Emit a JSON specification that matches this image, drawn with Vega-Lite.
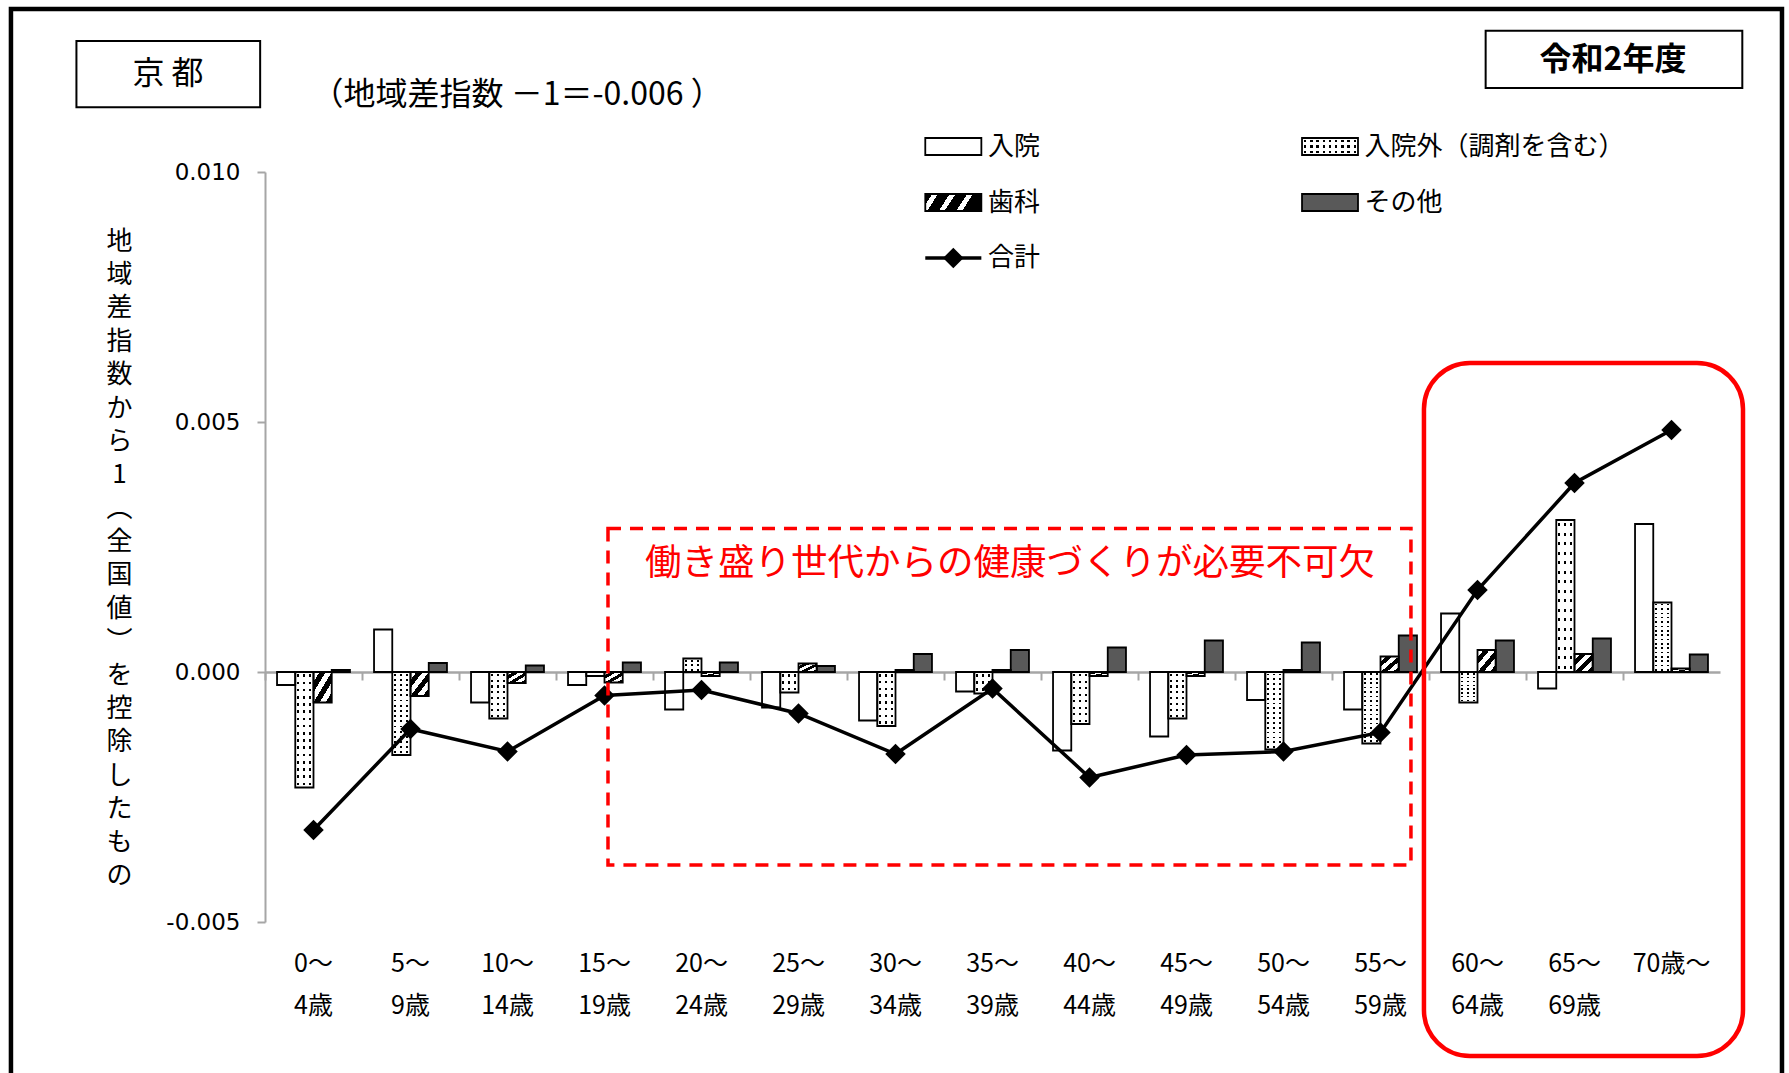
{
  "$schema": "https://vega.github.io/schema/vega-lite/v6.json",
  "width": 1455,
  "height": 750,
  "autosize": {"type": "none"},
  "padding": {"left": 265, "top": 172, "right": 69, "bottom": 151},
  "background": "white",
  "config": {"font": "Noto Sans CJK JP", "view": {"stroke": null}},
  "datasets": {
    "bars": [
      {"age": "0～|4歳", "type": "入院", "value": -0.00026},
      {"age": "0～|4歳", "type": "入院外", "value": -0.00231},
      {"age": "0～|4歳", "type": "歯科", "value": -0.00061},
      {"age": "0～|4歳", "type": "その他", "value": 0.00004},
      {"age": "5～|9歳", "type": "入院", "value": 0.00085},
      {"age": "5～|9歳", "type": "入院外", "value": -0.00166},
      {"age": "5～|9歳", "type": "歯科", "value": -0.00048},
      {"age": "5～|9歳", "type": "その他", "value": 0.00018},
      {"age": "10～|14歳", "type": "入院", "value": -0.00061},
      {"age": "10～|14歳", "type": "入院外", "value": -0.00093},
      {"age": "10～|14歳", "type": "歯科", "value": -0.00022},
      {"age": "10～|14歳", "type": "その他", "value": 0.00013},
      {"age": "15～|19歳", "type": "入院", "value": -0.00026},
      {"age": "15～|19歳", "type": "入院外", "value": -0.00008},
      {"age": "15～|19歳", "type": "歯科", "value": -0.00021},
      {"age": "15～|19歳", "type": "その他", "value": 0.00019},
      {"age": "20～|24歳", "type": "入院", "value": -0.00075},
      {"age": "20～|24歳", "type": "入院外", "value": 0.00027},
      {"age": "20～|24歳", "type": "歯科", "value": -0.00008},
      {"age": "20～|24歳", "type": "その他", "value": 0.00019},
      {"age": "25～|29歳", "type": "入院", "value": -0.00071},
      {"age": "25～|29歳", "type": "入院外", "value": -0.00041},
      {"age": "25～|29歳", "type": "歯科", "value": 0.00017},
      {"age": "25～|29歳", "type": "その他", "value": 0.00012},
      {"age": "30～|34歳", "type": "入院", "value": -0.00097},
      {"age": "30～|34歳", "type": "入院外", "value": -0.00108},
      {"age": "30～|34歳", "type": "歯科", "value": 0.00004},
      {"age": "30～|34歳", "type": "その他", "value": 0.00036},
      {"age": "35～|39歳", "type": "入院", "value": -0.00039},
      {"age": "35～|39歳", "type": "入院外", "value": -0.00043},
      {"age": "35～|39歳", "type": "歯科", "value": 0.00004},
      {"age": "35～|39歳", "type": "その他", "value": 0.00044},
      {"age": "40～|44歳", "type": "入院", "value": -0.00157},
      {"age": "40～|44歳", "type": "入院外", "value": -0.00104},
      {"age": "40～|44歳", "type": "歯科", "value": -0.00008},
      {"age": "40～|44歳", "type": "その他", "value": 0.00049},
      {"age": "45～|49歳", "type": "入院", "value": -0.00129},
      {"age": "45～|49歳", "type": "入院外", "value": -0.00093},
      {"age": "45～|49歳", "type": "歯科", "value": -0.00008},
      {"age": "45～|49歳", "type": "その他", "value": 0.00063},
      {"age": "50～|54歳", "type": "入院", "value": -0.00056},
      {"age": "50～|54歳", "type": "入院外", "value": -0.00155},
      {"age": "50～|54歳", "type": "歯科", "value": 0.00004},
      {"age": "50～|54歳", "type": "その他", "value": 0.00059},
      {"age": "55～|59歳", "type": "入院", "value": -0.00075},
      {"age": "55～|59歳", "type": "入院外", "value": -0.00143},
      {"age": "55～|59歳", "type": "歯科", "value": 0.00031},
      {"age": "55～|59歳", "type": "その他", "value": 0.00073},
      {"age": "60～|64歳", "type": "入院", "value": 0.00117},
      {"age": "60～|64歳", "type": "入院外", "value": -0.00061},
      {"age": "60～|64歳", "type": "歯科", "value": 0.00044},
      {"age": "60～|64歳", "type": "その他", "value": 0.00063},
      {"age": "65～|69歳", "type": "入院", "value": -0.00033},
      {"age": "65～|69歳", "type": "入院外", "value": 0.00304},
      {"age": "65～|69歳", "type": "歯科", "value": 0.00036},
      {"age": "65～|69歳", "type": "その他", "value": 0.00067},
      {"age": "70歳～", "type": "入院", "value": 0.00296},
      {"age": "70歳～", "type": "入院外", "value": 0.00139},
      {"age": "70歳～", "type": "歯科", "value": 0.00007},
      {"age": "70歳～", "type": "その他", "value": 0.00035}
    ],
    "totals": [
      {"age": "0～|4歳", "value": -0.00316},
      {"age": "5～|9歳", "value": -0.00114},
      {"age": "10～|14歳", "value": -0.00159},
      {"age": "15～|19歳", "value": -0.00047},
      {"age": "20～|24歳", "value": -0.00036},
      {"age": "25～|29歳", "value": -0.00083},
      {"age": "30～|34歳", "value": -0.00164},
      {"age": "35～|39歳", "value": -0.00033},
      {"age": "40～|44歳", "value": -0.00211},
      {"age": "45～|49歳", "value": -0.00166},
      {"age": "50～|54歳", "value": -0.00159},
      {"age": "55～|59歳", "value": -0.00121},
      {"age": "60～|64歳", "value": 0.00164},
      {"age": "65～|69歳", "value": 0.00378},
      {"age": "70歳～", "value": 0.00484}
    ],
    "legend": [
      {"item": "入院", "x": 6.807, "x2": 7.385, "y": 0.01068, "y2": 0.01034, "tx": 7.454, "ty": 0.01051},
      {"item": "歯科", "x": 6.807, "x2": 7.385, "y": 0.00956, "y2": 0.00922, "tx": 7.454, "ty": 0.00939},
      {"item": "合計", "x": 6.807, "x2": 7.385, "y": 0.00828, "y2": 0.00828, "tx": 7.454, "ty": 0.00828},
      {"item": "入院外（調剤を含む）", "x": 10.691, "x2": 11.268, "y": 0.01068, "y2": 0.01034, "tx": 11.336, "ty": 0.01051},
      {"item": "その他", "x": 10.691, "x2": 11.268, "y": 0.00956, "y2": 0.00922, "tx": 11.336, "ty": 0.00939}
    ]
  },
  "resolve": {"scale": {"x": "independent", "y": "independent"}},
  "layer": [
    {
      "resolve": {"scale": {"x": "shared", "y": "shared"}, "axis": {"x": "independent", "y": "independent"}},
      "layer": [
        {
          "data": {"name": "bars"},
          "transform": [{"filter": "datum.type === '入院'"}],
          "mark": {"type": "bar", "fill": "white"},
          "encoding": {
            "x": {"field": "age", "type": "nominal", "sort": null,
              "scale": {"type": "band", "domain": ["0～|4歳","5～|9歳","10～|14歳","15～|19歳","20～|24歳","25～|29歳","30～|34歳","35～|39歳","40～|44歳","45～|49歳","50～|54歳","55～|59歳","60～|64歳","65～|69歳","70歳～"], "paddingInner": 0, "paddingOuter": 0},
              "axis": {"orient": "bottom", "domain": false, "ticks": false, "tickSize": 0, "labelPadding": 29, "labelFontSize": 25, "labelLineHeight": 42, "labelExpr": "split(datum.label, '|')", "labelBaseline": "top", "labelAngle": 0, "labelOverlap": false, "labelColor": "#000000", "labelFont": "Noto Sans CJK JP", "title": null, "grid": false}},
            "xOffset": {"field": "type", "type": "nominal", "sort": null, "scale": {"domain": ["入院","入院外","歯科","その他"], "paddingInner": 0, "paddingOuter": 0.66}},
            "y": {"field": "value", "type": "quantitative", "stack": null,
              "scale": {"domain": [-0.005, 0.01], "nice": false, "zero": false},
              "axis": {"orient": "left", "values": [-0.005, 0, 0.005, 0.01], "labelExpr": "replace(format(datum.value, '.3f'), '−', '-')", "labelFont": "DejaVu Sans", "labelFontSize": 23, "labelColor": "#000000", "labelPadding": 17, "tickSize": 8, "tickWidth": 2, "tickColor": "#a6a6a6", "domainColor": "#a6a6a6", "domainWidth": 2, "grid": false,
                "title": ["地","域","差","指","数","か","ら","1","︵","全","国","値","︶","を","控","除","し","た","も","の"],
                "titleAngle": 0, "titleX": -146, "titleY": 56, "titleAlign": "center", "titleBaseline": "top", "titleFontSize": 26, "titleFontWeight": "normal", "titleLineHeight": 33.4, "titleFont": "Noto Sans CJK JP", "titleColor": "#000000"}},
            "y2": {"datum": 0}
          }
        },
        {
          "data": {"name": "bars"},
          "transform": [{"filter": "datum.type === 'その他'"}],
          "mark": {"type": "bar", "fill": "#595959"},
          "encoding": {
            "x": {"field": "age", "type": "nominal", "sort": null, "scale": {"type": "band"}, "axis": null},
            "xOffset": {"field": "type", "type": "nominal", "sort": null},
            "y": {"field": "value", "type": "quantitative", "stack": null, "axis": null},
            "y2": {"datum": 0}
          }
        },
        {
          "data": {"name": "bars"},
          "transform": [{"filter": "datum.type === '歯科'"}],
          "mark": {"type": "bar", "fill": {"gradient": "linear", "x1": 0, "y1": 0, "x2": 1, "y2": 1, "stops": [
            {"offset": 0, "color": "white"}, {"offset": 0.1667, "color": "white"}, {"offset": 0.1667, "color": "black"}, {"offset": 0.3333, "color": "black"},
            {"offset": 0.3333, "color": "white"}, {"offset": 0.5, "color": "white"}, {"offset": 0.5, "color": "black"}, {"offset": 0.6667, "color": "black"},
            {"offset": 0.6667, "color": "white"}, {"offset": 0.8333, "color": "white"}, {"offset": 0.8333, "color": "black"}, {"offset": 1, "color": "black"}]}},
          "encoding": {
            "x": {"field": "age", "type": "nominal", "sort": null, "scale": {"type": "band"}, "axis": null},
            "xOffset": {"field": "type", "type": "nominal", "sort": null},
            "y": {"field": "value", "type": "quantitative", "stack": null, "axis": null},
            "y2": {"datum": 0}
          }
        },
        {
          "data": {"name": "bars"},
          "transform": [{"filter": "datum.type === '入院外' && abs(datum.value) >= 0.0012"}],
          "mark": {"type": "bar", "fill": {"gradient": "linear", "x1": 0, "y1": 0, "x2": 0, "y2": 1, "stops": [
            {"offset": 0, "color": "white"},
            {"offset": 0.02, "color": "white"}, {"offset": 0.02, "color": "black"}, {"offset": 0.0425, "color": "black"}, {"offset": 0.0425, "color": "white"},
            {"offset": 0.0825, "color": "white"}, {"offset": 0.0825, "color": "black"}, {"offset": 0.105, "color": "black"}, {"offset": 0.105, "color": "white"},
            {"offset": 0.145, "color": "white"}, {"offset": 0.145, "color": "black"}, {"offset": 0.1675, "color": "black"}, {"offset": 0.1675, "color": "white"},
            {"offset": 0.2075, "color": "white"}, {"offset": 0.2075, "color": "black"}, {"offset": 0.23, "color": "black"}, {"offset": 0.23, "color": "white"},
            {"offset": 0.27, "color": "white"}, {"offset": 0.27, "color": "black"}, {"offset": 0.2925, "color": "black"}, {"offset": 0.2925, "color": "white"},
            {"offset": 0.3325, "color": "white"}, {"offset": 0.3325, "color": "black"}, {"offset": 0.355, "color": "black"}, {"offset": 0.355, "color": "white"},
            {"offset": 0.395, "color": "white"}, {"offset": 0.395, "color": "black"}, {"offset": 0.4175, "color": "black"}, {"offset": 0.4175, "color": "white"},
            {"offset": 0.4575, "color": "white"}, {"offset": 0.4575, "color": "black"}, {"offset": 0.48, "color": "black"}, {"offset": 0.48, "color": "white"},
            {"offset": 0.52, "color": "white"}, {"offset": 0.52, "color": "black"}, {"offset": 0.5425, "color": "black"}, {"offset": 0.5425, "color": "white"},
            {"offset": 0.5825, "color": "white"}, {"offset": 0.5825, "color": "black"}, {"offset": 0.605, "color": "black"}, {"offset": 0.605, "color": "white"},
            {"offset": 0.645, "color": "white"}, {"offset": 0.645, "color": "black"}, {"offset": 0.6675, "color": "black"}, {"offset": 0.6675, "color": "white"},
            {"offset": 0.7075, "color": "white"}, {"offset": 0.7075, "color": "black"}, {"offset": 0.73, "color": "black"}, {"offset": 0.73, "color": "white"},
            {"offset": 0.77, "color": "white"}, {"offset": 0.77, "color": "black"}, {"offset": 0.7925, "color": "black"}, {"offset": 0.7925, "color": "white"},
            {"offset": 0.8325, "color": "white"}, {"offset": 0.8325, "color": "black"}, {"offset": 0.855, "color": "black"}, {"offset": 0.855, "color": "white"},
            {"offset": 0.895, "color": "white"}, {"offset": 0.895, "color": "black"}, {"offset": 0.9175, "color": "black"}, {"offset": 0.9175, "color": "white"},
            {"offset": 0.9575, "color": "white"}, {"offset": 0.9575, "color": "black"}, {"offset": 0.98, "color": "black"}, {"offset": 0.98, "color": "white"},
            {"offset": 1, "color": "white"}]}},
          "encoding": {
            "x": {"field": "age", "type": "nominal", "sort": null, "scale": {"type": "band"}, "axis": null},
            "xOffset": {"field": "type", "type": "nominal", "sort": null},
            "y": {"field": "value", "type": "quantitative", "stack": null, "axis": null},
            "y2": {"datum": 0}
          }
        },
        {
          "data": {"name": "bars"},
          "transform": [{"filter": "datum.type === '入院外' && abs(datum.value) >= 0.0005 && abs(datum.value) < 0.0012"}],
          "mark": {"type": "bar", "fill": {"gradient": "linear", "x1": 0, "y1": 0, "x2": 0, "y2": 1, "stops": [
            {"offset": 0, "color": "white"},
            {"offset": 0.04, "color": "white"}, {"offset": 0.04, "color": "black"}, {"offset": 0.085, "color": "black"}, {"offset": 0.085, "color": "white"},
            {"offset": 0.165, "color": "white"}, {"offset": 0.165, "color": "black"}, {"offset": 0.21, "color": "black"}, {"offset": 0.21, "color": "white"},
            {"offset": 0.29, "color": "white"}, {"offset": 0.29, "color": "black"}, {"offset": 0.335, "color": "black"}, {"offset": 0.335, "color": "white"},
            {"offset": 0.415, "color": "white"}, {"offset": 0.415, "color": "black"}, {"offset": 0.46, "color": "black"}, {"offset": 0.46, "color": "white"},
            {"offset": 0.54, "color": "white"}, {"offset": 0.54, "color": "black"}, {"offset": 0.585, "color": "black"}, {"offset": 0.585, "color": "white"},
            {"offset": 0.665, "color": "white"}, {"offset": 0.665, "color": "black"}, {"offset": 0.71, "color": "black"}, {"offset": 0.71, "color": "white"},
            {"offset": 0.79, "color": "white"}, {"offset": 0.79, "color": "black"}, {"offset": 0.835, "color": "black"}, {"offset": 0.835, "color": "white"},
            {"offset": 0.915, "color": "white"}, {"offset": 0.915, "color": "black"}, {"offset": 0.96, "color": "black"}, {"offset": 0.96, "color": "white"},
            {"offset": 1, "color": "white"}]}},
          "encoding": {
            "x": {"field": "age", "type": "nominal", "sort": null, "scale": {"type": "band"}, "axis": null},
            "xOffset": {"field": "type", "type": "nominal", "sort": null},
            "y": {"field": "value", "type": "quantitative", "stack": null, "axis": null},
            "y2": {"datum": 0}
          }
        },
        {
          "data": {"name": "bars"},
          "transform": [{"filter": "datum.type === '入院外' && abs(datum.value) < 0.0005"}],
          "mark": {"type": "bar", "fill": {"gradient": "linear", "x1": 0, "y1": 0, "x2": 0, "y2": 1, "stops": [
            {"offset": 0, "color": "white"},
            {"offset": 0.1, "color": "white"}, {"offset": 0.1, "color": "black"}, {"offset": 0.2333, "color": "black"}, {"offset": 0.2333, "color": "white"},
            {"offset": 0.4333, "color": "white"}, {"offset": 0.4333, "color": "black"}, {"offset": 0.5667, "color": "black"}, {"offset": 0.5667, "color": "white"},
            {"offset": 0.7667, "color": "white"}, {"offset": 0.7667, "color": "black"}, {"offset": 0.9, "color": "black"}, {"offset": 0.9, "color": "white"},
            {"offset": 1, "color": "white"}]}},
          "encoding": {
            "x": {"field": "age", "type": "nominal", "sort": null, "scale": {"type": "band"}, "axis": null},
            "xOffset": {"field": "type", "type": "nominal", "sort": null},
            "y": {"field": "value", "type": "quantitative", "stack": null, "axis": null},
            "y2": {"datum": 0}
          }
        },
        {
          "data": {"name": "bars"},
          "transform": [{"filter": "datum.type === '入院外'"}],
          "mark": {"type": "bar", "fill": {"gradient": "linear", "x1": 0, "y1": 0, "x2": 1, "y2": 0, "stops": [
            {"offset": 0, "color": "white"}, {"offset": 0.11, "color": "white"}, {"offset": 0.11, "color": "rgba(255,255,255,0)"}, {"offset": 0.22, "color": "rgba(255,255,255,0)"},
            {"offset": 0.22, "color": "white"}, {"offset": 0.445, "color": "white"}, {"offset": 0.445, "color": "rgba(255,255,255,0)"}, {"offset": 0.555, "color": "rgba(255,255,255,0)"},
            {"offset": 0.555, "color": "white"}, {"offset": 0.78, "color": "white"}, {"offset": 0.78, "color": "rgba(255,255,255,0)"}, {"offset": 0.89, "color": "rgba(255,255,255,0)"},
            {"offset": 0.89, "color": "white"}, {"offset": 1, "color": "white"}]}},
          "encoding": {
            "x": {"field": "age", "type": "nominal", "sort": null, "scale": {"type": "band"}, "axis": null},
            "xOffset": {"field": "type", "type": "nominal", "sort": null},
            "y": {"field": "value", "type": "quantitative", "stack": null, "axis": null},
            "y2": {"datum": 0}
          }
        },
        {
          "data": {"name": "bars"},
          "mark": {"type": "bar", "fill": "transparent", "stroke": "black", "strokeWidth": 1.8},
          "encoding": {
            "x": {"field": "age", "type": "nominal", "sort": null, "scale": {"type": "band"}, "axis": null},
            "xOffset": {"field": "type", "type": "nominal", "sort": null},
            "y": {"field": "value", "type": "quantitative", "stack": null, "axis": null},
            "y2": {"datum": 0}
          }
        },
        {
          "data": {"name": "totals"},
          "mark": {"type": "line", "color": "black", "strokeWidth": 3.5},
          "encoding": {
            "x": {"field": "age", "type": "nominal", "sort": null, "scale": {"type": "band"},
              "axis": {"orient": "bottom", "offset": -250, "labels": false, "title": null, "domainColor": "#a6a6a6", "domainWidth": 2.5, "tickColor": "#a6a6a6", "tickWidth": 2, "tickSize": 8, "bandPosition": 0, "grid": false}},
            "y": {"field": "value", "type": "quantitative", "axis": null}
          }
        },
        {
          "data": {"name": "totals"},
          "mark": {"type": "point", "shape": "diamond", "filled": true, "color": "black", "size": 420, "opacity": 1},
          "encoding": {
            "x": {"field": "age", "type": "nominal", "sort": null, "scale": {"type": "band"}, "axis": null},
            "y": {"field": "value", "type": "quantitative", "axis": null}
          }
        }
      ]
    },
    {
      "layer": [
        {
          "data": {"values": [{"part": "border", "x": -2.619, "x2": 15.639, "y": 0.01326, "y2": -0.0084}]},
          "mark": {"type": "rect", "fill": "transparent", "stroke": "black", "strokeWidth": 4.5},
          "encoding": {
            "x": {"field": "x", "type": "quantitative", "scale": {"domain": [0, 15], "nice": false, "zero": false}, "axis": null},
            "x2": {"field": "x2"},
            "y": {"field": "y", "type": "quantitative", "scale": {"domain": [-0.005, 0.01], "nice": false, "zero": false}, "axis": null},
            "y2": {"field": "y2"}
          }
        },
        {
          "data": {"values": [
            {"box": "京都", "x": -1.944, "x2": -0.05, "y": 0.012618, "y2": 0.011294},
            {"box": "令和2年度", "x": 12.584, "x2": 15.23, "y": 0.012824, "y2": 0.011682}
          ]},
          "mark": {"type": "rect", "fill": "white", "stroke": "black", "strokeWidth": 2},
          "encoding": {
            "x": {"field": "x", "type": "quantitative", "axis": null},
            "x2": {"field": "x2"},
            "y": {"field": "y", "type": "quantitative", "axis": null},
            "y2": {"field": "y2"}
          }
        },
        {
          "data": {"values": [{"label": "京 都", "x": -1.0, "y": 0.01196}]},
          "mark": {"type": "text", "fontSize": 32, "align": "center", "baseline": "middle", "color": "black", "font": "Noto Sans CJK JP"},
          "encoding": {
            "x": {"field": "x", "type": "quantitative", "axis": null},
            "y": {"field": "y", "type": "quantitative", "axis": null},
            "text": {"field": "label"}
          }
        },
        {
          "data": {"values": [{"label": "（地域差指数 －1＝-0.006 ）", "x": 0.48, "y": 0.01154}]},
          "mark": {"type": "text", "fontSize": 32, "align": "left", "baseline": "middle", "color": "black", "font": "Noto Sans CJK JP"},
          "encoding": {
            "x": {"field": "x", "type": "quantitative", "axis": null},
            "y": {"field": "y", "type": "quantitative", "axis": null},
            "text": {"field": "label"}
          }
        },
        {
          "data": {"values": [{"label": "令和2年度", "x": 13.897, "y": 0.01224}]},
          "mark": {"type": "text", "fontSize": 32, "fontWeight": "bold", "align": "center", "baseline": "middle", "color": "black", "font": "Noto Sans CJK JP"},
          "encoding": {
            "x": {"field": "x", "type": "quantitative", "axis": null},
            "y": {"field": "y", "type": "quantitative", "axis": null},
            "text": {"field": "label"}
          }
        },
        {
          "data": {"name": "legend"},
          "transform": [{"filter": "datum.item === '入院'"}],
          "mark": {"type": "rect", "fill": "white"},
          "encoding": {
            "x": {"field": "x", "type": "quantitative", "axis": null},
            "x2": {"field": "x2"},
            "y": {"field": "y", "type": "quantitative", "axis": null},
            "y2": {"field": "y2"}
          }
        },
        {
          "data": {"name": "legend"},
          "transform": [{"filter": "datum.item === 'その他'"}],
          "mark": {"type": "rect", "fill": "#595959"},
          "encoding": {
            "x": {"field": "x", "type": "quantitative", "axis": null},
            "x2": {"field": "x2"},
            "y": {"field": "y", "type": "quantitative", "axis": null},
            "y2": {"field": "y2"}
          }
        },
        {
          "data": {"name": "legend"},
          "transform": [{"filter": "datum.item === '歯科'"}],
          "mark": {"type": "rect", "fill": {"gradient": "linear", "x1": 0, "y1": 0, "x2": 1, "y2": 0.2, "stops": [
            {"offset": 0, "color": "black"}, {"offset": 0.12, "color": "black"}, {"offset": 0.12, "color": "white"}, {"offset": 0.22, "color": "white"},
            {"offset": 0.22, "color": "black"}, {"offset": 0.42, "color": "black"}, {"offset": 0.42, "color": "white"}, {"offset": 0.52, "color": "white"},
            {"offset": 0.52, "color": "black"}, {"offset": 0.72, "color": "black"}, {"offset": 0.72, "color": "white"}, {"offset": 0.82, "color": "white"},
            {"offset": 0.82, "color": "black"}, {"offset": 1, "color": "black"}]}},
          "encoding": {
            "x": {"field": "x", "type": "quantitative", "axis": null},
            "x2": {"field": "x2"},
            "y": {"field": "y", "type": "quantitative", "axis": null},
            "y2": {"field": "y2"}
          }
        },
        {
          "data": {"name": "legend"},
          "transform": [{"filter": "datum.item === '入院外（調剤を含む）'"}],
          "mark": {"type": "rect", "fill": {"gradient": "linear", "x1": 0, "y1": 0, "x2": 0, "y2": 1, "stops": [
            {"offset": 0, "color": "white"},
            {"offset": 0.1, "color": "white"}, {"offset": 0.1, "color": "black"}, {"offset": 0.2333, "color": "black"}, {"offset": 0.2333, "color": "white"},
            {"offset": 0.4333, "color": "white"}, {"offset": 0.4333, "color": "black"}, {"offset": 0.5667, "color": "black"}, {"offset": 0.5667, "color": "white"},
            {"offset": 0.7667, "color": "white"}, {"offset": 0.7667, "color": "black"}, {"offset": 0.9, "color": "black"}, {"offset": 0.9, "color": "white"},
            {"offset": 1, "color": "white"}]}},
          "encoding": {
            "x": {"field": "x", "type": "quantitative", "axis": null},
            "x2": {"field": "x2"},
            "y": {"field": "y", "type": "quantitative", "axis": null},
            "y2": {"field": "y2"}
          }
        },
        {
          "data": {"name": "legend"},
          "transform": [{"filter": "datum.item === '入院外（調剤を含む）'"}],
          "mark": {"type": "rect", "fill": {"gradient": "linear", "x1": 0, "y1": 0, "x2": 1, "y2": 0, "stops": [
            {"offset": 0, "color": "white"},
            {"offset": 0.0333, "color": "white"}, {"offset": 0.0333, "color": "rgba(255,255,255,0)"}, {"offset": 0.0778, "color": "rgba(255,255,255,0)"}, {"offset": 0.0778, "color": "white"},
            {"offset": 0.1444, "color": "white"}, {"offset": 0.1444, "color": "rgba(255,255,255,0)"}, {"offset": 0.1889, "color": "rgba(255,255,255,0)"}, {"offset": 0.1889, "color": "white"},
            {"offset": 0.2556, "color": "white"}, {"offset": 0.2556, "color": "rgba(255,255,255,0)"}, {"offset": 0.3, "color": "rgba(255,255,255,0)"}, {"offset": 0.3, "color": "white"},
            {"offset": 0.3667, "color": "white"}, {"offset": 0.3667, "color": "rgba(255,255,255,0)"}, {"offset": 0.4111, "color": "rgba(255,255,255,0)"}, {"offset": 0.4111, "color": "white"},
            {"offset": 0.4778, "color": "white"}, {"offset": 0.4778, "color": "rgba(255,255,255,0)"}, {"offset": 0.5222, "color": "rgba(255,255,255,0)"}, {"offset": 0.5222, "color": "white"},
            {"offset": 0.5889, "color": "white"}, {"offset": 0.5889, "color": "rgba(255,255,255,0)"}, {"offset": 0.6333, "color": "rgba(255,255,255,0)"}, {"offset": 0.6333, "color": "white"},
            {"offset": 0.7, "color": "white"}, {"offset": 0.7, "color": "rgba(255,255,255,0)"}, {"offset": 0.7444, "color": "rgba(255,255,255,0)"}, {"offset": 0.7444, "color": "white"},
            {"offset": 0.8111, "color": "white"}, {"offset": 0.8111, "color": "rgba(255,255,255,0)"}, {"offset": 0.8556, "color": "rgba(255,255,255,0)"}, {"offset": 0.8556, "color": "white"},
            {"offset": 0.9222, "color": "white"}, {"offset": 0.9222, "color": "rgba(255,255,255,0)"}, {"offset": 0.9667, "color": "rgba(255,255,255,0)"}, {"offset": 0.9667, "color": "white"},
            {"offset": 1, "color": "white"}]}},
          "encoding": {
            "x": {"field": "x", "type": "quantitative", "axis": null},
            "x2": {"field": "x2"},
            "y": {"field": "y", "type": "quantitative", "axis": null},
            "y2": {"field": "y2"}
          }
        },
        {
          "data": {"name": "legend"},
          "transform": [{"filter": "datum.item !== '合計'"}],
          "mark": {"type": "rect", "fill": "transparent", "stroke": "black", "strokeWidth": 1.8},
          "encoding": {
            "x": {"field": "x", "type": "quantitative", "axis": null},
            "x2": {"field": "x2"},
            "y": {"field": "y", "type": "quantitative", "axis": null},
            "y2": {"field": "y2"}
          }
        },
        {
          "data": {"name": "legend"},
          "transform": [{"filter": "datum.item === '合計'"}],
          "mark": {"type": "rule", "color": "black", "strokeWidth": 3.5},
          "encoding": {
            "x": {"field": "x", "type": "quantitative", "axis": null},
            "x2": {"field": "x2"},
            "y": {"field": "y", "type": "quantitative", "axis": null}
          }
        },
        {
          "data": {"name": "legend"},
          "transform": [{"filter": "datum.item === '合計'"}],
          "mark": {"type": "point", "shape": "diamond", "filled": true, "color": "black", "size": 420, "opacity": 1},
          "encoding": {
            "x": {"datum": 7.096, "type": "quantitative", "axis": null},
            "y": {"field": "y", "type": "quantitative", "axis": null}
          }
        },
        {
          "data": {"name": "legend"},
          "mark": {"type": "text", "fontSize": 26, "align": "left", "baseline": "middle", "color": "black", "font": "Noto Sans CJK JP"},
          "encoding": {
            "x": {"field": "tx", "type": "quantitative", "axis": null},
            "y": {"field": "ty", "type": "quantitative", "axis": null},
            "text": {"field": "item"}
          }
        },
        {
          "data": {"values": [{"zone": "働き盛り世代", "x": 3.536, "x2": 11.814, "y": 0.00287, "y2": -0.00386}]},
          "mark": {"type": "rect", "fill": "transparent", "stroke": "#ff0000", "strokeWidth": 3.5, "strokeDash": [13, 9]},
          "encoding": {
            "x": {"field": "x", "type": "quantitative", "axis": null},
            "x2": {"field": "x2"},
            "y": {"field": "y", "type": "quantitative", "axis": null},
            "y2": {"field": "y2"}
          }
        },
        {
          "data": {"values": [{"zone": "高齢", "x": 11.948, "x2": 15.237, "y": 0.00618, "y2": -0.00768}]},
          "mark": {"type": "rect", "fill": "transparent", "stroke": "#ff0000", "strokeWidth": 4.5, "cornerRadius": 46},
          "encoding": {
            "x": {"field": "x", "type": "quantitative", "axis": null},
            "x2": {"field": "x2"},
            "y": {"field": "y", "type": "quantitative", "axis": null},
            "y2": {"field": "y2"}
          }
        },
        {
          "data": {"values": [{"label": "働き盛り世代からの健康づくりが必要不可欠", "x": 7.68, "y": 0.00216}]},
          "mark": {"type": "text", "fontSize": 36.5, "align": "center", "baseline": "middle", "color": "#ff0000", "font": "Noto Sans CJK JP"},
          "encoding": {
            "x": {"field": "x", "type": "quantitative", "axis": null},
            "y": {"field": "y", "type": "quantitative", "axis": null},
            "text": {"field": "label"}
          }
        }
      ]
    }
  ]
}
